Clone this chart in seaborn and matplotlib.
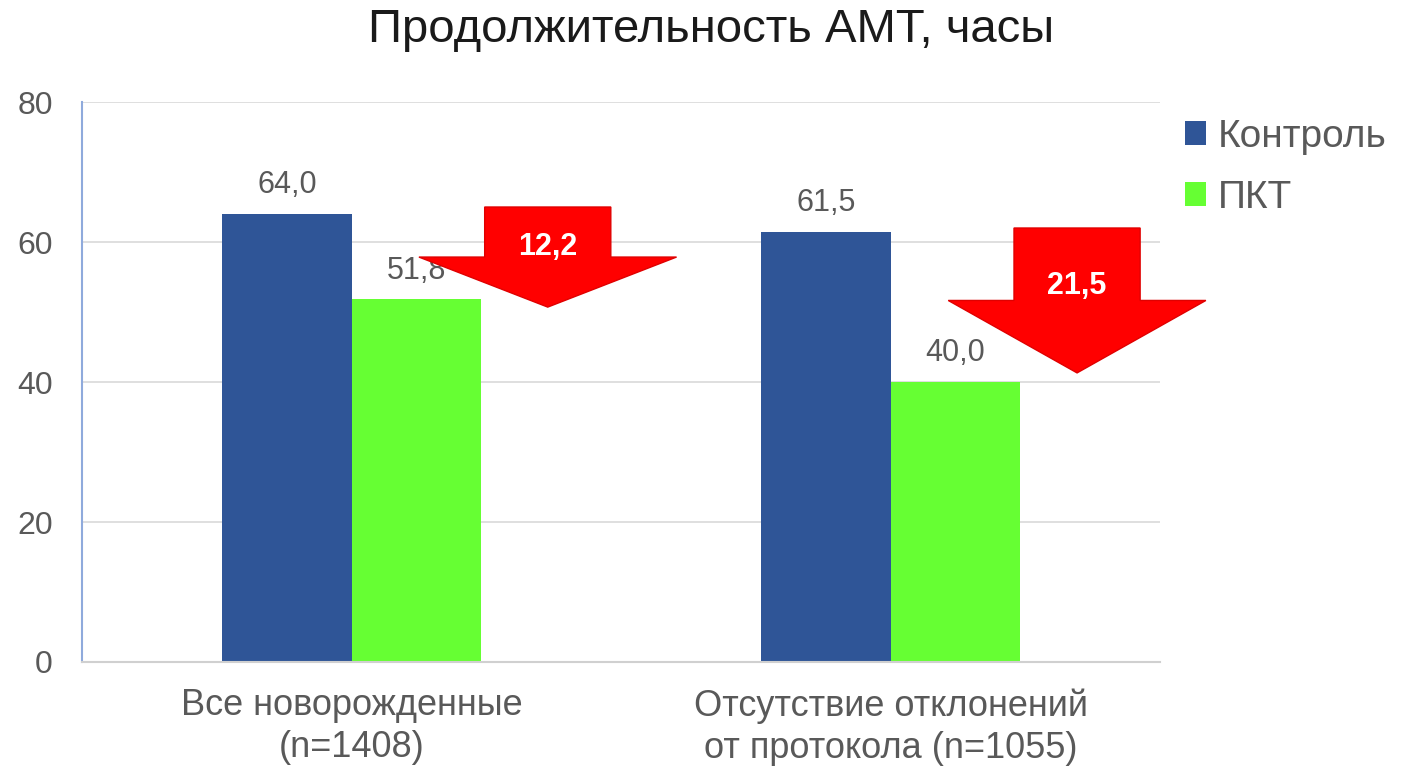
import matplotlib
matplotlib.use("Agg")
import matplotlib.pyplot as plt
import seaborn as sns
import pandas as pd
from matplotlib.patches import Polygon, Patch

# ---- data ----
categories = ["Все новорожденные\n(n=1408)", "Отсутствие отклонений\nот протокола (n=1055)"]
series_names = ["Контроль", "ПКТ"]
control_values = [64.0, 61.5]
pkt_values = [51.8, 40.0]
y_ticks = [0, 20, 40, 60, 80]
title = "Продолжительность АМТ, часы"

colors = {"Контроль": "#2F5597", "ПКТ": "#66FF33"}
gray = "#595959"

sns.set_theme(style="white")
plt.rcParams["font.family"] = ["Liberation Sans", "DejaVu Sans"]

df = pd.DataFrame({
    "cat": categories * 2,
    "series": [series_names[0]] * 2 + [series_names[1]] * 2,
    "value": control_values + pkt_values,
})

fig = plt.figure(figsize=(14.07, 7.67), dpi=100)
ax = fig.add_axes([0.0583, 0.1369, 0.8245 - 0.0583, 0.867 - 0.1369])

sns.barplot(data=df, x="cat", y="value", hue="series", palette=colors,
            width=0.48, gap=0, ax=ax, legend=False, saturation=1,
            order=categories, hue_order=series_names, linewidth=0)

ax.set_xlim(-0.5, 1.5)
ax.set_ylim(0, 80)
ax.set_yticks(y_ticks)
ax.set_yticklabels([str(t) for t in y_ticks])
ax.yaxis.grid(True, color="#D9D9D9", linewidth=1.2)
ax.set_axisbelow(True)
ax.set_xlabel("")
ax.set_ylabel("")
for s in ["top", "right"]:
    ax.spines[s].set_visible(False)
ax.spines["left"].set_color("#8FAADC")
ax.spines["left"].set_linewidth(1.5)
ax.spines["bottom"].set_color("#D0D0D0")
ax.spines["bottom"].set_linewidth(1.5)
ax.tick_params(axis="y", length=0, pad=21, labelsize=23, labelcolor=gray)
ax.tick_params(axis="x", length=0, pad=19, labelsize=26, labelcolor=gray)
for lbl in ax.get_xticklabels():
    lbl.set_linespacing(1.25)

# value labels
for cont in ax.containers:
    ax.bar_label(cont, labels=[f"{v:.1f}".replace(".", ",") for v in cont.datavalues],
                 padding=10, fontsize=22, color=gray)

# red arrows showing the reduction
x_offsets = [0.364, 0.346]
top_pads = [1.0, 0.5]
tip_pads = [-1.1, 1.3]
for i, (c, p) in enumerate(zip(control_values, pkt_values)):
    xc = i + x_offsets[i]
    top = c + top_pads[i]
    tip = p + tip_pads[i]
    mid = top - (top - tip) * 0.5
    sw, hw = 0.117, 0.239
    poly = Polygon([(xc - sw, top), (xc + sw, top), (xc + sw, mid), (xc + hw, mid),
                    (xc, tip), (xc - hw, mid), (xc - sw, mid), (xc - sw, top)],
                   closed=True, facecolor="#FF0000", edgecolor="#E00000",
                   linewidth=1, clip_on=False, zorder=5)
    ax.add_patch(poly)
    ax.text(xc, top - (top - tip) * 0.4, f"{c - p:.1f}".replace(".", ","),
            ha="center", va="center", color="white", fontsize=22,
            fontweight="bold", zorder=6, clip_on=False)

# legend
handles = [Patch(facecolor=colors[s], edgecolor="none", label=s) for s in series_names]
fig.legend(handles=handles, loc="upper left", bbox_to_anchor=(1169 / 1407, 1 - 103 / 767),
           frameon=False, fontsize=28, handlelength=0.55, handleheight=0.55,
           handletextpad=0.3, labelspacing=0.65, labelcolor=gray, borderaxespad=0)

fig.text(711 / 1407, 1 - 30 / 767, title, ha="center", va="center",
         fontsize=34, color="#1A1A1A")

fig.savefig("out.png", dpi=100)
